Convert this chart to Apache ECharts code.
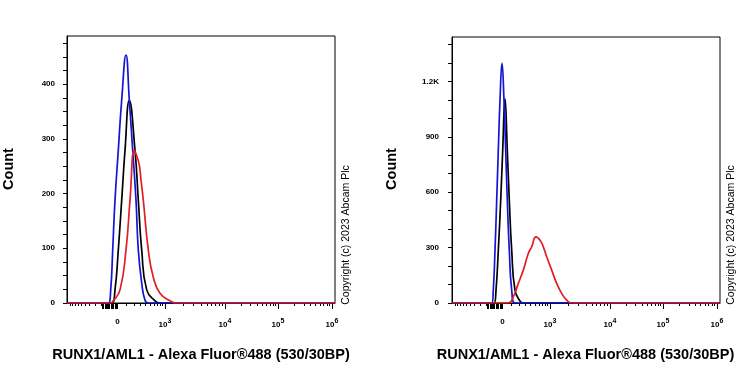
<!DOCTYPE html>
<html><head><meta charset="utf-8">
<script src="https://cdn.jsdelivr.net/npm/echarts@6/dist/echarts.min.js"></script>
<style>html,body{margin:0;padding:0;background:#fff}#c{width:750px;height:375px}</style>
</head><body><div id="c"></div>
<script>
// ---- data (x in display channels 0..268 of the biexponential axis, y = count) ----
const blueL_x  = [0, 41.3, 43.7, 45.7, 48, 51.3, 54.7, 59, 62.3, 65.7, 69, 71.3, 74.7, 78, 81.3, 268];
const blueL_y  = [0, 0, 24, 97, 188, 279, 371, 453, 371, 279, 188, 97, 37, 5, 0, 0];
const blackL_x = [0, 44.7, 48, 51.3, 54.7, 58, 62.3, 68, 71.3, 74.7, 79.7, 88, 93, 268];
const blackL_y = [0, 0, 24, 97, 188, 279, 370, 279, 188, 97, 24, 4, 0, 0];
const redL_x   = [0, 43, 46.3, 53, 59, 63, 67.3, 69.5, 72.3, 74, 76.3, 81.3, 86.3, 93, 103, 109.7, 268];
const redL_y   = [0, 0, 4, 24, 97, 188, 279, 270, 252, 225, 188, 97, 47, 18, 4, 0, 0];

const blueR_x  = [0, 39.7, 41.3, 43, 44.7, 46.3, 48, 50, 52, 53.7, 55.3, 57.3, 59.7, 63, 268];
const blueR_y  = [0, 0, 70, 286, 556, 826, 1096, 1297, 1096, 826, 556, 286, 70, 0, 0];
const blackR_x = [0, 42, 44, 46.3, 48.7, 50.7, 53, 55.3, 57.3, 59.7, 63, 68, 71.3, 268];
const blackR_y = [0, 0, 70, 286, 556, 826, 1105, 826, 556, 286, 70, 11, 0, 0];
const redR_x   = [0, 56.3, 61.3, 66.3, 71.3, 76.3, 79.7, 84, 88, 91.3, 94.7, 99.7, 104.7, 109.7, 114.7, 119.7, 268];
const redR_y   = [0, 0, 34, 106, 178, 268, 304, 358, 340, 304, 250, 178, 106, 52, 16, 0, 0];

// ---- axis ticks / labels ----
const xLabelVals = [0, 1e3, 1e4, 1e5, 1e6];
const decadePos = [98, 158, 211, 265];     // display position of 10^3..10^6
const yLeftLabels  = [0, 100, 200, 300, 400];
const yRightLabels = [0, 300, 600, 900, 1200];
const xTitle = 'RUNX1/AML1 - Alexa Fluor®488 (530/30BP)';
const yTitle = 'Count';
const copyright = 'Copyright (c) 2023 Abcam Plc';

function biex(v) {
  if (v <= 1000) return 50.5 + 47.5 * Math.asinh(v / 262) / Math.asinh(1000 / 262);
  const lg = Math.log10(v);
  const i = Math.min(Math.floor(lg), 5) - 3;
  return decadePos[i] + (lg - (i + 3)) * (decadePos[i + 1] - decadePos[i]);
}
const majorVals = [1e3, 1e4, 1e5, 1e6];
for (let v = -180; v <= 0; v += 15) majorVals.push(v);
const minorVals = [];
for (let v = -1000; v <= -200; v += 100) minorVals.push(v);
for (let v = 100; v <= 900; v += 100) minorVals.push(v);
[1e3, 1e4, 1e5].forEach(d => { for (let k = 2; k <= 9; k++) minorVals.push(k * d); });

const yTicks = (step, top) => { const a = []; for (let v = 0; v <= top; v += step) a.push(v); return a; };

const zip = (xs, ys) => xs.map((x, i) => [x, ys[i]]);

function xLabelFmt(value) {
  const i = xLabelVals.findIndex(v => Math.abs(biex(v) - value) < 0.01);
  const v = xLabelVals[i];
  if (v === 0) return '{n|0}';
  return '{n|10}{s|' + Math.round(Math.log10(v)) + '}';
}
const rich = {
  n: { fontSize: 8, fontWeight: 'bold', color: '#000', fontFamily: 'Liberation Sans' },
  s: { fontSize: 7, fontWeight: 'bold', color: '#000', fontFamily: 'Liberation Sans', verticalAlign: 'bottom', padding: [0, 0, 6, 0] }
};

function xAxes(gi) {
  return [
    { gridIndex: gi, type: 'value', min: 0, max: 268, position: 'bottom',
      axisLine: { show: true, lineStyle: { color: '#000', width: 1 } },
      axisTick: { show: true, length: 6, customValues: majorVals.map(biex), lineStyle: { color: '#000', width: 1 } },
      axisLabel: { show: true, customValues: xLabelVals.map(biex), formatter: xLabelFmt, rich: rich, margin: 15 },
      splitLine: { show: false } },
    { gridIndex: gi, type: 'value', min: 0, max: 268, position: 'bottom',
      axisLine: { show: false },
      axisTick: { show: true, length: 3, customValues: minorVals.map(biex), lineStyle: { color: '#000', width: 1 } },
      axisLabel: { show: false }, splitLine: { show: false } }
  ];
}
function yAxis(gi, max, tickStep, labels, margin) {
  return { gridIndex: gi, type: 'value', min: 0, max: max,
    axisLine: { show: true, lineStyle: { color: '#000', width: 1 } },
    axisTick: { show: true, length: 4, customValues: yTicks(tickStep, max), lineStyle: { color: '#000' } },
    axisLabel: { customValues: labels, margin: margin, fontSize: 8, fontWeight: 'bold', color: '#000', fontFamily: 'Liberation Sans',
      formatter: v => v >= 1000 ? (v / 1000) + 'K' : String(v) },
    splitLine: { show: false } };
}
function line(data, color, xi, yi) {
  return { type: 'line', data: data, xAxisIndex: xi, yAxisIndex: yi, symbol: 'none', smooth: 0.5,
    lineStyle: { color: color, width: 1.7 }, animation: false };
}
function txt(x, y, text, size, bold, rot) {
  return { type: 'text', x: x, y: y, rotation: rot || 0,
    style: { text: text, fontSize: size, fontWeight: bold ? 'bold' : 'normal', fontFamily: 'Liberation Sans', fill: '#000', align: 'center', verticalAlign: 'middle' } };
}

const chart = echarts.init(document.getElementById('c'), null, { renderer: 'canvas' });
chart.setOption({
  animation: false,
  backgroundColor: '#fff',
  grid: [
    { left: 67, top: 36, width: 268, height: 267, show: true, borderColor: '#000', borderWidth: 1 },
    { left: 452, top: 37, width: 268, height: 266, show: true, borderColor: '#000', borderWidth: 1 }
  ],
  xAxis: [...xAxes(0), ...xAxes(1)],
  yAxis: [yAxis(0, 488, 25, yLeftLabels, 12), yAxis(1, 1440, 100, yRightLabels, 13)],
  series: [
    line(zip(blackL_x, blackL_y), '#000000', 0, 0),
    line(zip(blueL_x, blueL_y), '#1414d8', 0, 0),
    line(zip(redL_x, redL_y), '#e02020', 0, 0),
    line(zip(blackR_x, blackR_y), '#000000', 2, 1),
    line(zip(blueR_x, blueR_y), '#1414d8', 2, 1),
    line(zip(redR_x, redR_y), '#e02020', 2, 1)
  ],
  graphic: [
    txt(8.5, 169, yTitle, 14.5, true, Math.PI / 2),
    txt(392, 169, yTitle, 14.5, true, Math.PI / 2),
    txt(201, 355, xTitle, 14.5, true),
    txt(585.5, 355, xTitle, 14.5, true),
    txt(346, 235, copyright, 10.5, false, Math.PI / 2),
    txt(731, 235, copyright, 10.5, false, Math.PI / 2)
  ]
});
</script>
</body></html>
